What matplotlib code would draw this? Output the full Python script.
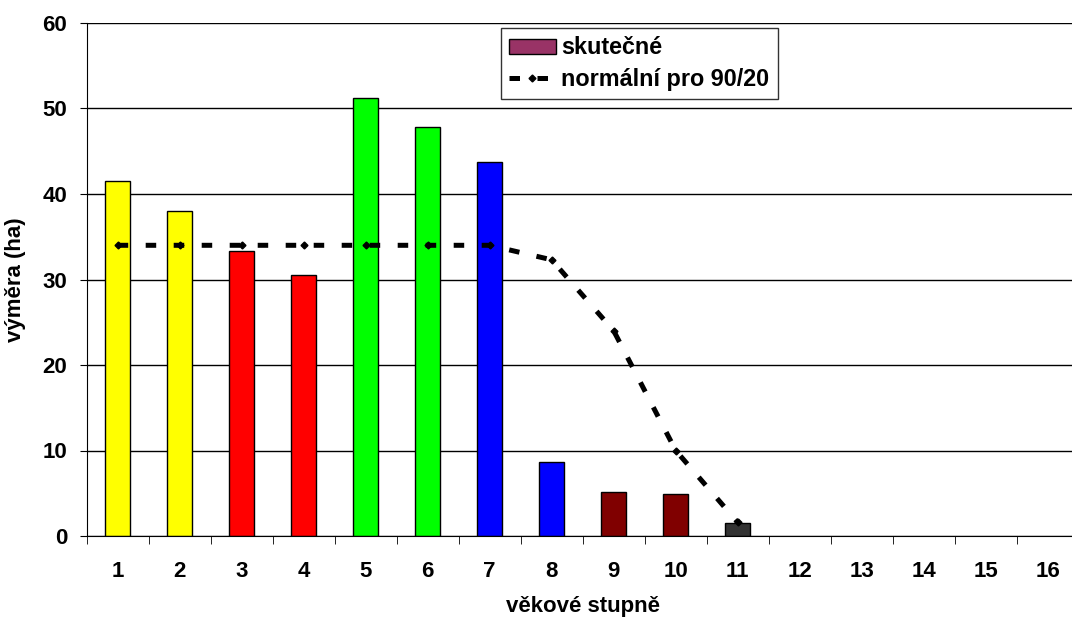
import numpy as np
import matplotlib as mpl
import matplotlib.pyplot as plt
from matplotlib.patches import Patch
from matplotlib.lines import Line2D

mpl.rc("font", family=["Liberation Sans", "DejaVu Sans"], weight="bold")

# věkové stupně a výměry
stupne = np.arange(1, 17)
skutecne = [41.5, 38.0, 33.3, 30.5, 51.2, 47.8, 43.7, 8.7, 5.1, 4.9, 1.5, 0, 0, 0, 0, 0]
barvy = ["#FFFF00", "#FFFF00", "#FF0000", "#FF0000", "#00FF00", "#00FF00",
         "#0000FF", "#0000FF", "#800000", "#800000", "#333333",
         "#993366", "#993366", "#993366", "#993366", "#993366"]
# normální stav pro obmýtí 90 a obnovní dobu 20
normal_x = np.arange(1, 12)
normal = [34, 34, 34, 34, 34, 34, 34, 32.3, 24.0, 10.0, 1.6]

W, H = 1072, 621
fig, ax = plt.subplots(figsize=(W / 100, H / 100), dpi=100)
# osa přesahuje pravý okraj obrázku jako v originále
fig.subplots_adjust(left=86.7 / W, right=1078.7 / W, top=1 - 23 / H, bottom=1 - 536 / H)

ax.set_axisbelow(True)
ax.yaxis.grid(True, color="black", linewidth=1)
hrany = ["black" if v > 0 else "none" for v in skutecne]
ax.bar(stupne, skutecne, width=0.40, color=barvy, edgecolor=hrany, linewidth=1, zorder=2)
styl = dict(color="black", linewidth=3.6, linestyle=(0, (2.1, 3.5)), marker="D", markersize=3.5)
ax.plot(normal_x, normal, zorder=3, **styl)

ax.set_xlim(0.5, 16.5)
ax.set_ylim(0, 60)
ax.set_yticks(np.arange(0, 61, 10))
ax.set_xticks(stupne)
ax.set_xticks(np.arange(0.5, 17, 1), minor=True)
ax.tick_params(axis="x", which="major", length=0, pad=18, labelsize=16)
ax.tick_params(axis="x", which="minor", length=6, direction="out")
ax.tick_params(axis="y", length=5, direction="out", labelsize=16, pad=9)

for s in ("top", "right"):
    ax.spines[s].set_visible(False)

ax.set_xlabel("věkové stupně", fontsize=16, fontweight="bold", labelpad=10)
ax.set_ylabel("výměra (ha)", fontsize=16, fontweight="bold", labelpad=12)

handles = [Patch(facecolor="#993366", edgecolor="black", label="skutečné"),
           Line2D([0], [0], **styl, label="normální pro 90/20")]
leg = ax.legend(handles=handles, loc="upper left",
                bbox_to_anchor=(500.7 / W, 1 - 28.3 / H), bbox_transform=fig.transFigure,
                fontsize=16.8, frameon=True, fancybox=False, edgecolor="black",
                handlelength=2.0, handleheight=0.6, borderpad=0.35, labelspacing=0.35,
                handletextpad=0.25, borderaxespad=0)
leg.get_frame().set_linewidth(1)

plt.savefig("out.png", dpi=100)
